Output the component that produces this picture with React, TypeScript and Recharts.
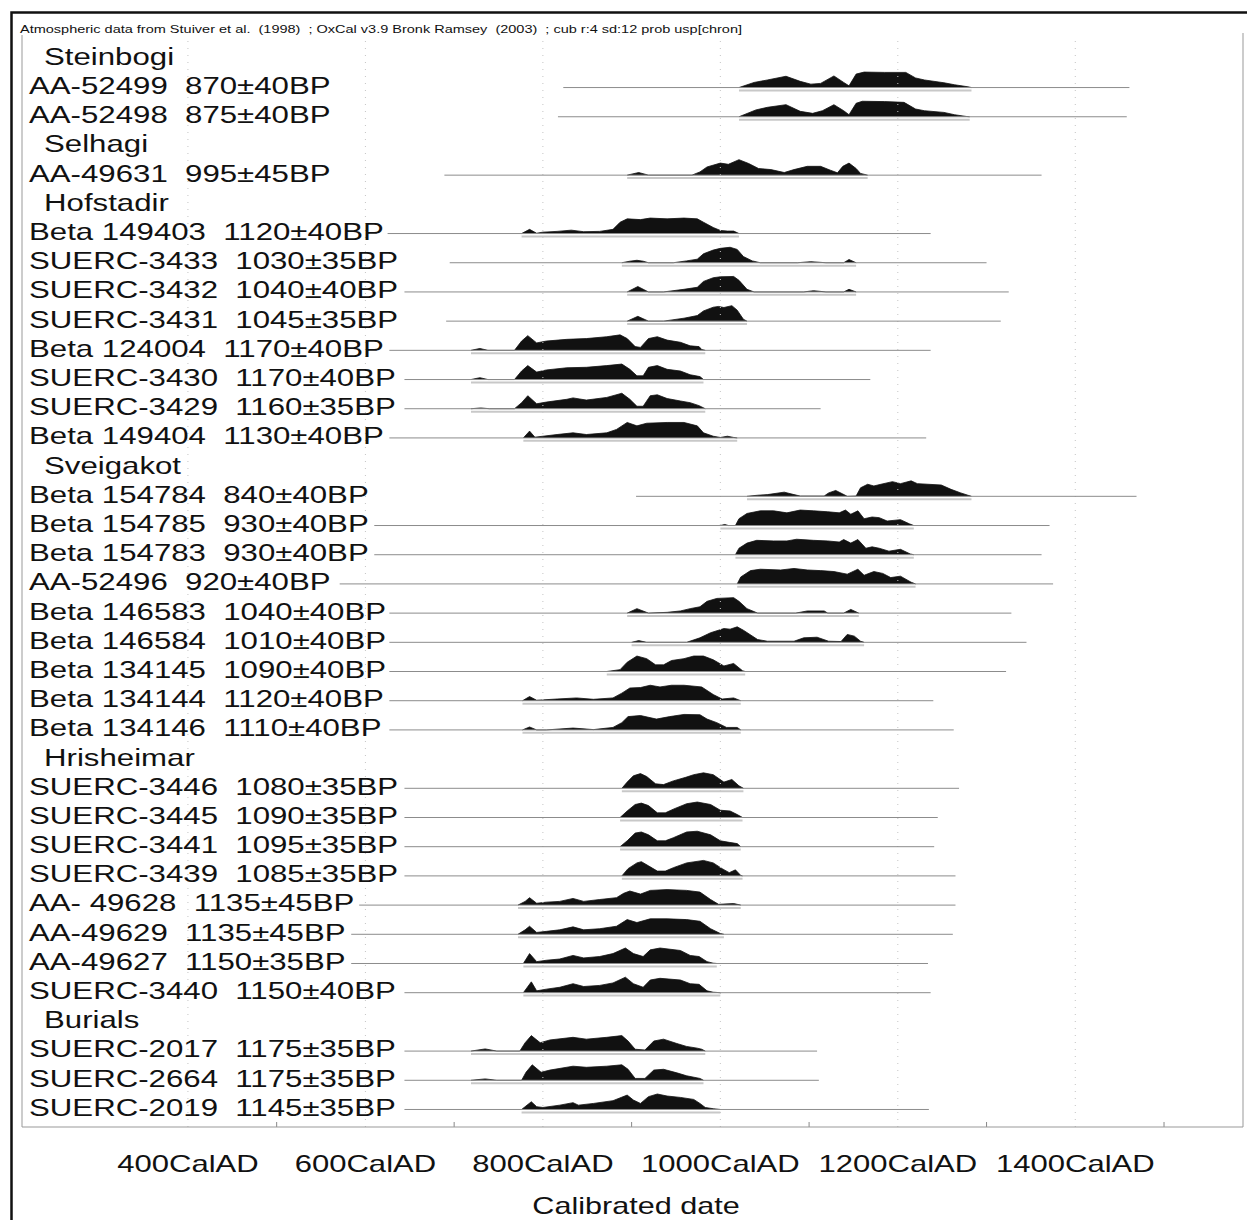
import { ComposedChart, Area, Line, XAxis, YAxis, ReferenceLine } from 'recharts';

// OxCal multiplot: calibrated radiocarbon dates, one row per sample

const FONT = "'Liberation Sans', Arial, Helvetica, sans-serif";

const ROW_LABELS = [
  'Steinbogi',
  'AA-52499  870±40BP',
  'AA-52498  875±40BP',
  'Selhagi',
  'AA-49631  995±45BP',
  'Hofstadir',
  'Beta 149403  1120±40BP',
  'SUERC-3433  1030±35BP',
  'SUERC-3432  1040±40BP',
  'SUERC-3431  1045±35BP',
  'Beta 124004  1170±40BP',
  'SUERC-3430  1170±40BP',
  'SUERC-3429  1160±35BP',
  'Beta 149404  1130±40BP',
  'Sveigakot',
  'Beta 154784  840±40BP',
  'Beta 154785  930±40BP',
  'Beta 154783  930±40BP',
  'AA-52496  920±40BP',
  'Beta 146583  1040±40BP',
  'Beta 146584  1010±40BP',
  'Beta 134145  1090±40BP',
  'Beta 134144  1120±40BP',
  'Beta 134146  1110±40BP',
  'Hrisheimar',
  'SUERC-3446  1080±35BP',
  'SUERC-3445  1090±35BP',
  'SUERC-3441  1095±35BP',
  'SUERC-3439  1085±35BP',
  'AA- 49628  1135±45BP',
  'AA-49629  1135±45BP',
  'AA-49627  1150±35BP',
  'SUERC-3440  1150±40BP',
  'Burials',
  'SUERC-2017  1175±35BP',
  'SUERC-2664  1175±35BP',
  'SUERC-2019  1145±35BP',
];

const GROUP_ROWS = [0, 3, 5, 14, 24, 33];

const YEAR_LABELS = [400, 600, 800, 1000, 1200, 1400];
const MINOR_TICKS = [500, 700, 900, 1100, 1300, 1500];

// [year AD, relative probability 0-100]
const AA_52499 = [[1021,0],[1038,33],[1053,49],[1074,73],[1090,40],[1102,22],[1113,27],[1128,75],[1139,33],[1145,11],[1153,87],[1162,100],[1185,98],[1209,98],[1220,62],[1230,49],[1252,31],[1264,18],[1279,5],[1283,0]];
const AA_52498 = [[1021,0],[1040,44],[1053,61],[1074,78],[1090,35],[1104,22],[1115,39],[1128,78],[1139,39],[1145,13],[1153,87],[1160,100],[1185,98],[1207,93],[1220,50],[1230,39],[1252,28],[1264,13],[1277,2],[1281,0]];
const AA_49631 = [[895,0],[908,17],[919,0],[968,0],[977,21],[985,53],[1000,78],[1009,70],[1021,100],[1032,75],[1043,43],[1057,36],[1072,17],[1083,36],[1098,57],[1113,57],[1124,32],[1132,15],[1138,57],[1145,78],[1153,43],[1158,11],[1166,0]];
const BETA_149403 = [[776,0],[785,27],[793,2],[800,9],[816,14],[832,22],[846,12],[864,14],[879,27],[887,73],[895,95],[910,90],[921,100],[940,95],[959,100],[974,95],[981,73],[992,39],[1000,20],[1008,16],[1015,16],[1021,0]];
const SUERC_3433 = [[889,0],[898,10],[906,16],[913,10],[919,0],[947,0],[962,12],[974,23],[981,58],[992,82],[1000,93],[1011,100],[1019,86],[1026,40],[1036,12],[1045,0],[1087,0],[1102,7],[1119,0],[1139,0],[1145,21],[1153,0]];
const SUERC_3432 = [[895,0],[907,35],[919,0],[936,0],[959,17],[974,30],[981,68],[992,92],[1000,98],[1015,100],[1021,75],[1030,17],[1038,0],[1094,0],[1105,8],[1119,0],[1139,0],[1145,17],[1153,0]];
const SUERC_3431 = [[895,0],[907,31],[919,0],[936,0],[959,19],[974,36],[981,66],[992,90],[998,95],[1004,88],[1013,100],[1019,71],[1026,12],[1030,0]];
const BETA_124004 = [[719,0],[729,12],[738,0],[768,0],[776,60],[783,95],[793,48],[804,60],[827,71],[849,76],[872,88],[887,100],[895,76],[904,24],[910,19],[919,76],[929,88],[940,66],[955,52],[966,29],[976,24],[979,5],[983,0]];
const SUERC_3430 = [[719,0],[729,12],[738,0],[768,0],[776,55],[783,90],[793,48],[804,62],[827,76],[849,79],[872,90],[889,100],[898,66],[906,24],[913,24],[919,79],[929,90],[940,66],[955,55],[966,31],[977,19],[981,0]];
const SUERC_3429 = [[719,0],[730,5],[740,0],[768,0],[776,39],[783,84],[793,32],[804,43],[827,61],[834,70],[849,56],[872,73],[889,100],[898,61],[906,16],[913,16],[921,84],[929,90],[940,66],[955,50],[966,39],[976,20],[983,0]];
const BETA_149404 = [[778,0],[785,44],[791,5],[800,11],[816,22],[834,33],[849,22],[872,33],[883,55],[895,100],[906,78],[917,95],[940,100],[959,100],[974,78],[981,33],[992,11],[1000,3],[1008,11],[1015,3],[1019,0]];
const BETA_154784 = [[1030,0],[1042,7],[1053,11],[1072,27],[1083,11],[1090,2],[1117,2],[1122,22],[1130,38],[1138,15],[1143,0],[1153,2],[1158,55],[1166,78],[1173,67],[1181,78],[1194,95],[1203,82],[1215,100],[1222,82],[1234,78],[1249,73],[1260,45],[1271,22],[1279,7],[1283,0]];
const BETA_154785 = [[1000,0],[1005,7],[1009,0],[1017,0],[1021,44],[1030,78],[1045,95],[1060,95],[1075,82],[1090,100],[1105,95],[1121,89],[1134,82],[1141,100],[1147,73],[1155,95],[1162,44],[1171,55],[1179,51],[1188,29],[1203,38],[1213,11],[1218,0]];
const BETA_154783 = [[1017,0],[1021,42],[1030,75],[1041,93],[1060,89],[1075,89],[1086,100],[1105,93],[1121,89],[1134,82],[1139,98],[1147,75],[1155,98],[1164,42],[1171,51],[1179,42],[1190,23],[1203,35],[1214,5],[1218,0]];
const AA_52496 = [[1019,0],[1023,45],[1034,86],[1045,95],[1068,90],[1083,100],[1098,90],[1113,86],[1128,80],[1143,63],[1155,95],[1162,56],[1173,80],[1183,68],[1192,41],[1203,50],[1215,11],[1220,0]];
const BETA_146583 = [[895,0],[906,29],[919,0],[940,5],[955,14],[966,29],[977,41],[985,76],[996,95],[1015,100],[1021,76],[1030,29],[1042,0],[1085,0],[1098,14],[1117,14],[1121,0],[1139,0],[1147,24],[1156,0]];
const BETA_146584 = [[900,0],[908,11],[917,0],[962,0],[977,29],[989,62],[1004,89],[1011,85],[1019,100],[1026,78],[1042,18],[1053,7],[1083,7],[1094,29],[1109,33],[1122,7],[1136,5],[1143,51],[1151,40],[1158,7],[1162,0]];
const BETA_134145 = [[872,0],[887,12],[895,60],[906,100],[917,83],[927,43],[936,43],[945,71],[959,83],[970,100],[981,100],[992,76],[1004,36],[1015,52],[1025,5],[1028,0]];
const BETA_134144 = [[777,0],[785,27],[793,3],[816,11],[838,18],[857,9],[879,18],[889,49],[898,82],[910,85],[921,100],[932,89],[945,100],[959,100],[979,89],[992,40],[1002,11],[1015,18],[1023,0]];
const BETA_134146 = [[777,0],[785,19],[793,0],[804,0],[834,12],[857,2],[879,16],[889,47],[896,86],[910,93],[928,70],[943,86],[959,100],[977,98],[985,70],[996,47],[1007,16],[1019,16],[1023,0]];
const SUERC_3446 = [[889,0],[895,40],[902,81],[910,95],[917,76],[927,29],[936,24],[947,48],[961,71],[970,88],[981,100],[992,88],[1004,40],[1013,57],[1021,16],[1026,0]];
const SUERC_3445 = [[887,0],[895,42],[904,84],[911,93],[919,77],[929,30],[938,30],[947,54],[962,89],[974,100],[989,84],[1000,47],[1011,42],[1019,19],[1025,0]];
const SUERC_3441 = [[887,0],[895,38],[904,88],[911,95],[919,77],[929,38],[938,38],[947,58],[962,95],[974,100],[989,77],[1000,38],[1010,28],[1019,20],[1023,0]];
const SUERC_3439 = [[889,0],[896,47],[906,84],[911,92],[919,65],[929,31],[938,31],[947,53],[962,84],[981,100],[992,84],[1002,47],[1010,21],[1017,39],[1023,3],[1025,0]];
const AA_49628 = [[772,0],[780,24],[785,48],[793,12],[804,19],[819,24],[834,43],[846,24],[864,36],[883,48],[891,76],[898,91],[910,71],[921,95],[940,100],[962,95],[977,84],[989,36],[998,5],[1015,10],[1023,0]];
const AA_49629 = [[772,0],[780,29],[785,52],[793,12],[804,19],[819,29],[834,48],[846,29],[864,36],[883,52],[895,95],[906,76],[921,100],[940,100],[962,95],[977,84],[989,36],[1000,5],[1004,0]];
const AA_49627 = [[778,0],[785,64],[793,12],[804,21],[819,29],[834,52],[846,36],[864,45],[879,64],[893,100],[902,64],[913,45],[921,88],[932,100],[955,84],[966,52],[976,45],[985,12],[992,2],[996,0]];
const SUERC_3440 = [[778,0],[787,70],[793,12],[804,23],[819,35],[834,58],[846,40],[864,47],[879,63],[893,100],[902,58],[913,35],[921,82],[932,93],[955,82],[966,58],[976,54],[985,12],[992,3],[1000,0]];
const SUERC_2017 = [[719,0],[735,14],[748,0],[774,0],[780,54],[787,100],[797,54],[808,72],[834,89],[849,77],[872,89],[889,100],[896,65],[904,12],[915,7],[925,65],[936,77],[951,49],[962,30],[974,19],[979,12],[983,0]];
const SUERC_2664 = [[719,0],[735,9],[748,0],[776,0],[781,52],[788,100],[798,52],[808,66],[834,91],[849,84],[872,91],[889,100],[896,71],[904,12],[915,12],[925,66],[936,71],[951,48],[962,29],[977,12],[981,0]];
const SUERC_2019 = [[776,0],[787,50],[793,18],[800,13],[819,28],[834,44],[840,28],[857,39],[879,57],[895,93],[902,61],[910,39],[919,83],[929,100],[940,87],[955,78],[970,65],[977,39],[983,13],[992,5],[1000,0]];

// one entry per row, null for the site headings
const DISTRIBUTIONS = [
  null, AA_52499, AA_52498,
  null, AA_49631,
  null, BETA_149403, SUERC_3433, SUERC_3432, SUERC_3431, BETA_124004, SUERC_3430, SUERC_3429, BETA_149404,
  null, BETA_154784, BETA_154785, BETA_154783, AA_52496, BETA_146583, BETA_146584, BETA_134145, BETA_134144, BETA_134146,
  null, SUERC_3446, SUERC_3445, SUERC_3441, SUERC_3439, AA_49628, AA_49629, AA_49627, SUERC_3440,
  null, SUERC_2017, SUERC_2664, SUERC_2019,
];

// extent of the thin line drawn under each dated row (year AD)
const LINE_FROM = [823, 817, 689, 625, 695, 644, 691, 627, 644, 644, 627, 905, 610, 610, 571, 627, 627, 627, 627, 627, 644, 644, 644, 644, 593, 584, 584, 644, 644, 644, 644];
const LINE_TO = [1461, 1458, 1362, 1237, 1300, 1325, 1316, 1237, 1169, 1113, 1232, 1469, 1371, 1362, 1375, 1328, 1345, 1322, 1240, 1263, 1269, 1245, 1241, 1265, 1265, 1262, 1234, 1237, 1109, 1111, 1235];

const ROW_OFFSET = 0.8;   // baseline of row i sits at i + ROW_OFFSET
const PEAK = 0.53;        // height of a 100% peak, in rows
const Y_MAX = 37.4;
const X_DOMAIN = [213, 1589];

const PLOT_TOP = 35;
const PLOT_H = 1092;
const ROW_PX = PLOT_H / Y_MAX;

const HEADER = 'Atmospheric data from Stuiver et al.  (1998)  ; OxCal v3.9 Bronk Ramsey  (2003)  ; cub r:4 sd:12 prob usp[chron]';

const YearTick = (props: any) => {
  const { x, y, payload } = props;
  const v = payload.value;
  if (YEAR_LABELS.includes(v)) {
    return (
      <text
        transform={`translate(${x}, ${y + 44.7}) scale(1.35, 1)`}
        textAnchor="middle"
        fontSize={23}
        fontFamily={FONT}
        fill="#111"
      >
        {`${v}CalAD`}
      </text>
    );
  }
  return <line x1={x} x2={x} y1={y} y2={y - 5} stroke="#888" strokeWidth={1} />;
};

export default function App() {
  const rows = DISTRIBUTIONS.map((d, i) => ({ d, i })).filter((r) => r.d !== null);

  return (
    <div style={{ position: 'absolute', left: 0, top: 0, width: 1247, height: 1220, background: '#fff' }}>
      <ComposedChart width={1247} height={1220} margin={{ top: PLOT_TOP, right: 4, bottom: 0, left: 22 }}>
        <XAxis
          dataKey="year"
          type="number"
          domain={X_DOMAIN}
          allowDataOverflow
          ticks={[...YEAR_LABELS, ...MINOR_TICKS].sort((a, b) => a - b)}
          interval={0}
          height={93}
          axisLine={false}
          tickLine={false}
          tickSize={0}
          tickMargin={0}
          tick={(p: any) => <YearTick {...p} />}
        />
        <YAxis type="number" domain={[0, Y_MAX]} reversed allowDataOverflow width={0} hide />

        {YEAR_LABELS.map((yr) => (
          <ReferenceLine key={`g${yr}`} x={yr} stroke="#c4c4c4" strokeDasharray="1 6" />
        ))}

        {rows.map(({ i }, k) => {
          const base = i + ROW_OFFSET;
          return (
            <Line
              key={`l${i}`}
              data={[{ year: LINE_FROM[k], v: base }, { year: LINE_TO[k], v: base }]}
              dataKey="v"
              stroke="#8c8c8c"
              strokeWidth={1}
              dot={false}
              activeDot={false}
              isAnimationActive={false}
            />
          );
        })}

        {rows.map(({ d, i }) => {
          const base = i + ROW_OFFSET;
          const pts = d as number[][];
          return (
            <Line
              key={`r${i}`}
              data={[{ year: pts[0][0], v: base + 0.1 }, { year: pts[pts.length - 1][0], v: base + 0.1 }]}
              dataKey="v"
              stroke="#c8c8c8"
              strokeWidth={2}
              dot={false}
              activeDot={false}
              isAnimationActive={false}
            />
          );
        })}

        {rows.map(({ d, i }) => {
          const base = i + ROW_OFFSET;
          const data = (d as number[][]).map(([year, p]) => ({ year, v: base - (p / 100) * PEAK }));
          return (
            <Area
              key={`a${i}`}
              data={data}
              dataKey="v"
              type="linear"
              baseValue={base}
              stroke="#111"
              strokeWidth={0.8}
              fill="#111"
              fillOpacity={1}
              dot={false}
              activeDot={false}
              isAnimationActive={false}
            />
          );
        })}
      </ComposedChart>

      <svg width={1247} height={1220} style={{ position: 'absolute', left: 0, top: 0, pointerEvents: 'none' }}>
        <path d="M11.5,1222 L11.5,12.5 L1250,12.5" stroke="#111" strokeWidth={2.5} fill="none" />
        <path d="M22,35 L22,1127 L1243,1127 L1243,33" stroke="#999" strokeWidth={1} fill="none" />
        <text
          x={20}
          y={33}
          fontSize={11.5}
          fontFamily={FONT}
          fill="#111"
          textLength={722}
          lengthAdjust="spacingAndGlyphs"
          style={{ whiteSpace: 'pre' }}
        >
          {HEADER}
        </text>
        {ROW_LABELS.map((label, i) => {
          const isGroup = GROUP_ROWS.includes(i);
          const y = PLOT_TOP + (i + ROW_OFFSET) * ROW_PX + 6.4;
          return (
            <text
              key={label}
              transform={`translate(${isGroup ? 44 : 29}, ${y}) scale(1.3, 1)`}
              fontSize={24}
              fontFamily={FONT}
              fill="#111"
              style={{ whiteSpace: 'pre' }}
            >
              {label}
            </text>
          );
        })}
        <text
          transform="translate(636, 1214) scale(1.33, 1)"
          textAnchor="middle"
          fontSize={23}
          fontFamily={FONT}
          fill="#111"
        >
          Calibrated date
        </text>
      </svg>
    </div>
  );
}
